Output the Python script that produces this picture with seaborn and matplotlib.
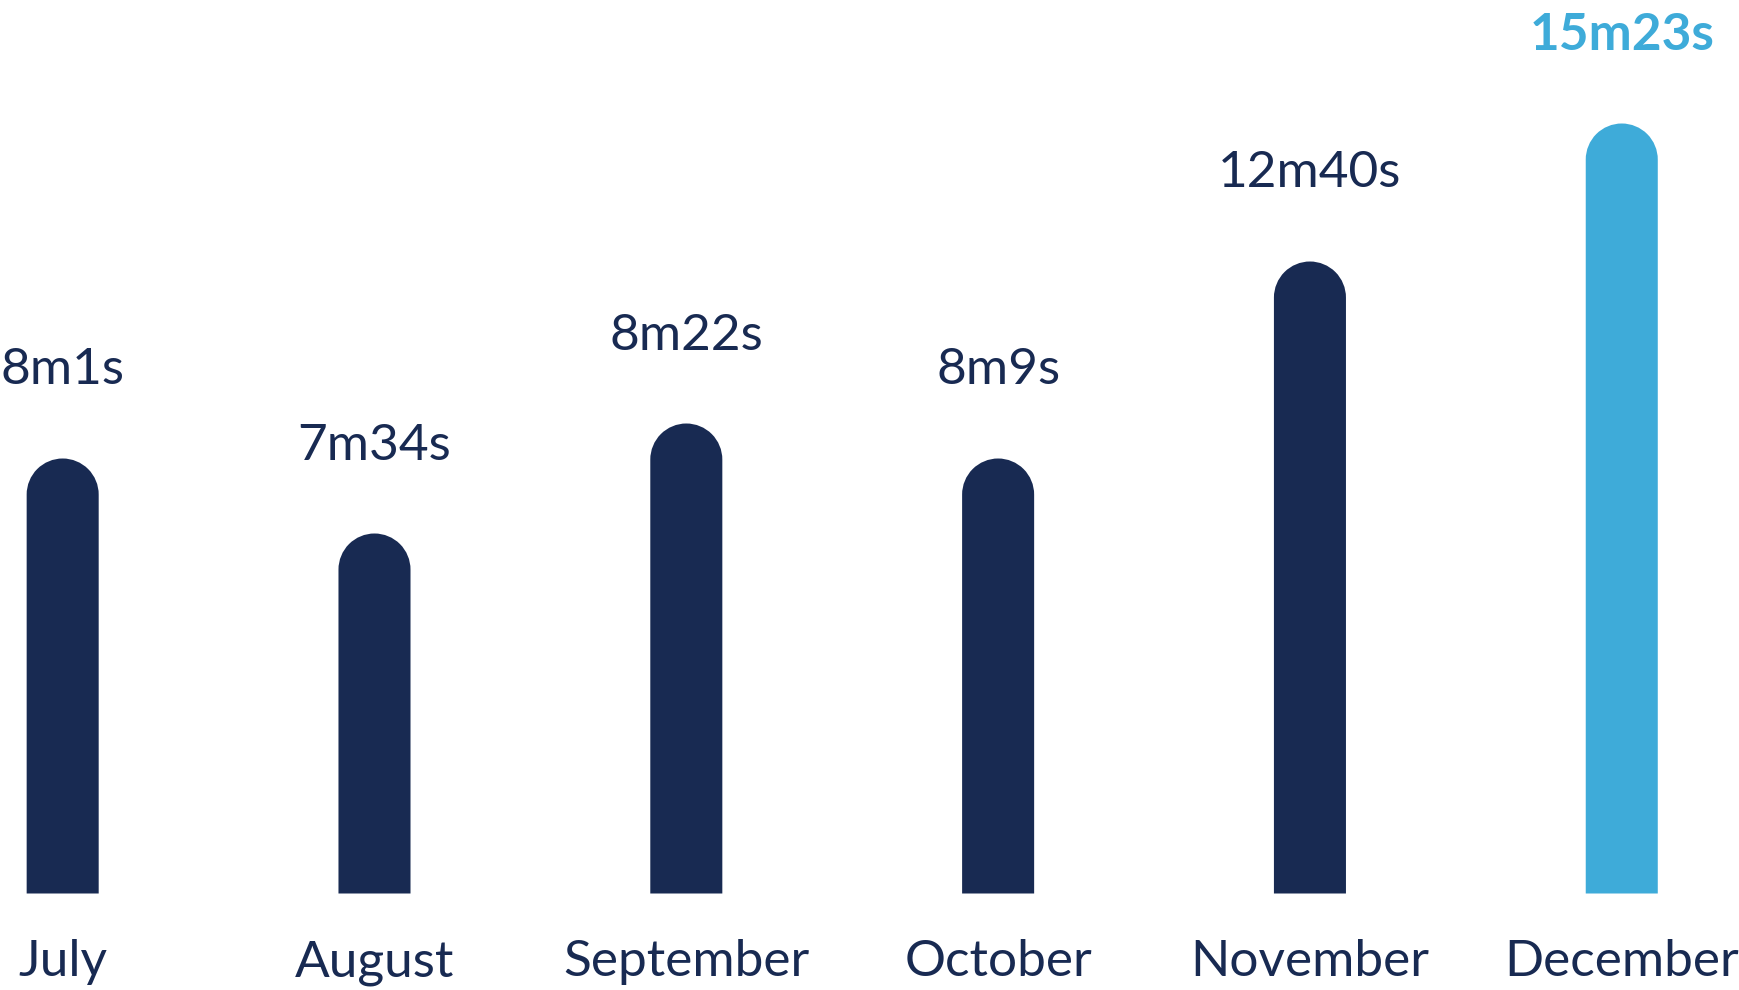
import numpy as np
import pandas as pd
import matplotlib.pyplot as plt
import seaborn as sns
from matplotlib.path import Path
from matplotlib.patches import PathPatch

# data
months = ['July', 'August', 'September', 'October', 'November', 'December']
value_labels = ['8m1s', '7m34s', '8m22s', '8m9s', '12m40s', '15m23s']
# bar heights as drawn (arbitrary scale, the bars are not proportional to the labels)
bar_heights = [43.5, 36.0, 47.0, 43.5, 63.2, 77.0]

navy = '#182a52'
light_blue = '#3eabd9'
bar_colors = [navy] * 5 + [light_blue]

df = pd.DataFrame({'month': months, 'height': bar_heights, 'label': value_labels})

sns.set_style('white')
plt.rcParams['font.family'] = ['Lato', 'DejaVu Sans']

fig = plt.figure(figsize=(17.39, 9.90), dpi=100)
ax = fig.add_axes([0, 0, 1, 1])

sns.barplot(data=df, x='month', y='height', hue='month', palette=bar_colors,
            legend=False, width=0.231, saturation=1, ax=ax)

ax.set_xlim(-0.201, 5.376)
ax.set_ylim(-9.65, 89.35)

# turn the seaborn bars into bars with a round top
r = 3.6
arc = Path.arc(0, 180)
for p, c in list(zip(ax.patches, bar_colors)):
    x0, w, h = p.get_x(), p.get_width(), p.get_height()
    x1, cx = x0 + w, x0 + w / 2
    cap = arc.vertices * [w / 2, r] + [cx, h - r]
    verts = [(x1, 0)] + [tuple(v) for v in cap] + [(x0, 0), (x1, 0)]
    codes = [Path.MOVETO, Path.LINETO] + list(arc.codes[1:]) + [Path.LINETO, Path.CLOSEPOLY]
    p.set_visible(False)
    ax.add_patch(PathPatch(Path(verts, codes), facecolor=c, edgecolor='none'))

# value labels above the bars
for i, row in df.iterrows():
    last = i == len(df) - 1
    ax.text(i, row['height'] + 7.4, row['label'], ha='center', va='baseline',
            fontsize=37, color=light_blue if last else navy,
            fontweight='bold' if last else 'normal')

# month labels under the bars
for i, m in enumerate(months):
    ax.text(i, -8.25, m, ha='center', va='baseline', fontsize=37, color=navy)

ax.axis('off')
fig.savefig('out.png', dpi=100)
